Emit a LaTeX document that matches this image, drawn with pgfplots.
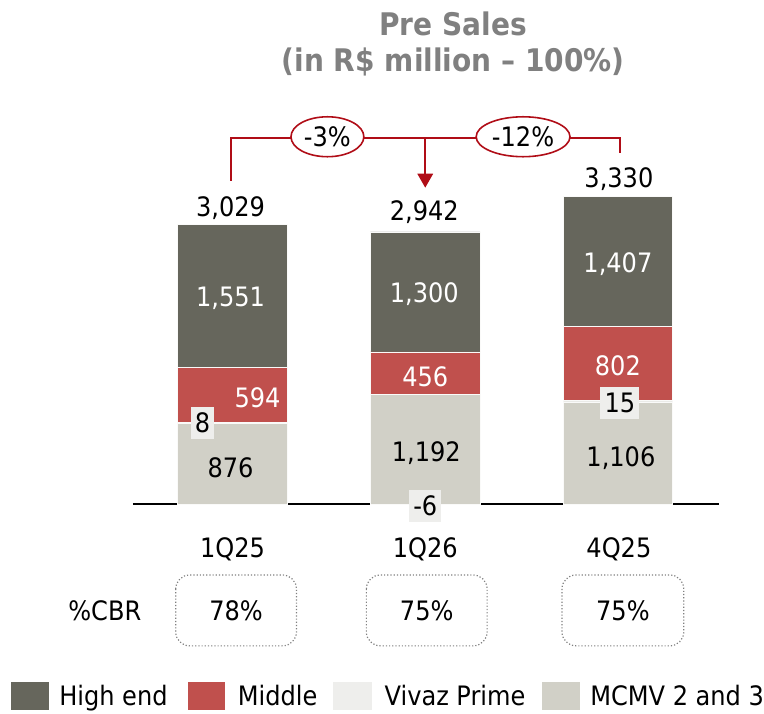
\documentclass[border=0pt]{standalone}
\usepackage{fontspec}
\setmainfont{DejaVu Sans Condensed}
\usepackage{pgfplots}
\pgfplotsset{compat=1.18}
\usetikzlibrary{shapes.geometric}

\definecolor{highend}{HTML}{66665C}
\definecolor{middle}{HTML}{C0504D}
\definecolor{vivaz}{HTML}{EEEEEC}
\definecolor{mcmv}{HTML}{D1D0C7}
\definecolor{titlegray}{HTML}{808080}
\definecolor{bred}{HTML}{B00D17}

\newcommand\lbl{\fontsize{13.4}{15}\selectfont}

\begin{document}
\begin{tikzpicture}
% 1 px of the reference = 0.5pt
\begin{axis}[
    at={(66.5pt,-252.5pt)}, anchor=south west,
    scale only axis, width=293.5pt, height=154pt,
    xmin=-0.518, xmax=2.523, ymin=0, ymax=3330,
    ybar stacked, bar width=55pt,
    axis x line*=bottom, axis y line=none,
    xtick=\empty, ytick=\empty,
    x axis line style={black, line width=0.8pt},
    clip=false,
  ]
  \addplot[fill=mcmv, draw=white!90!mcmv, line width=0.4pt] coordinates {(0,876) (1,1192) (2,1106)};
  \addplot[fill=vivaz, draw=white!90!mcmv, line width=0.4pt] coordinates {(0,8) (1,-6) (2,15)};
  \addplot[fill=middle, draw=white!90!mcmv, line width=0.4pt] coordinates {(0,594) (1,456) (2,802)};
  \addplot[fill=highend, draw=white!90!mcmv, line width=0.4pt] coordinates {(0,1551) (1,1300) (2,1407)};
\end{axis}

\begin{scope}[x=0.5pt, y=-0.5pt]
  \path (0,0) rectangle (764,715);
  % title
  \node[anchor=base, text=titlegray, font=\bfseries\fontsize{15.6}{18}\selectfont, inner sep=0] at (454,36) {Pre Sales};
  \node[anchor=base, text=titlegray, font=\bfseries\fontsize{15.6}{18}\selectfont, inner sep=0] at (454,72) {(in R\$ million – 100\%)};

  % bracket
  \draw[bred, line width=1pt] (231,181) -- (231,138) -- (621,138) -- (621,153);
  \draw[bred, line width=1pt] (426,138) -- (426,176);
  \fill[bred] (418,174) -- (434,174) -- (426,188) -- cycle;
  \node[draw=bred, fill=white, line width=0.8pt, ellipse, minimum width=36.5pt, minimum height=20pt, inner sep=0, font=\lbl] at (328,137) {-3\%};
  \node[draw=bred, fill=white, line width=0.8pt, ellipse, minimum width=47pt, minimum height=20pt, inner sep=0, font=\lbl] at (524,137) {-12\%};

  % totals
  \tikzset{lab/.style={anchor=base, inner sep=0, font=\lbl}}
  \node[lab] at (231,217) {3,029};
  \node[lab] at (425,221) {2,942};
  \node[lab] at (620,188) {3,330};
  % high end
  \node[lab, text=white] at (231,307) {1,551};
  \node[lab, text=white] at (425,303) {1,300};
  \node[lab, text=white] at (619,273) {1,407};
  % middle
  \node[lab, text=white] at (258,408) {594};
  \node[lab, text=white] at (426,387) {456};
  \node[lab, text=white] at (619,376) {802};
  % mcmv
  \node[lab] at (231,478) {876};
  \node[lab] at (427,462) {1,192};
  \node[lab] at (622,467) {1,106};
  % vivaz prime
  \tikzset{vb/.style={fill=vivaz, inner sep=0, minimum height=16pt, font=\lbl}}
  \node[vb, minimum width=11.5pt] at (203,424) {8};
  \node[vb, minimum width=16pt] at (426,507) {-6};
  \node[vb, minimum width=19.5pt] at (621,404) {15};

  % categories
  \node[lab] at (233,558) {1Q25};
  \node[lab] at (426,558) {1Q26};
  \node[lab] at (620,558) {4Q25};

  % %CBR
  \node[lab] at (105,622) {\%CBR};
  \foreach \a/\b/\t in {176/297/78\%, 367/488/75\%, 563/685/75\%}{
    \draw[gray, densely dotted, line width=0.6pt, rounded corners=7pt] (\a,576) rectangle (\b,647);
    \node[lab] at ({(\a+\b)/2},622) {\t};
  }

  % legend
  \fill[highend] (11,683) rectangle (49,711);
  \node[anchor=base west, inner sep=0, font=\lbl] at (59,707) {High end};
  \fill[middle] (188,683) rectangle (225,711);
  \node[anchor=base west, inner sep=0, font=\lbl] at (238,707) {Middle};
  \fill[vivaz] (334,683) rectangle (373,711);
  \node[anchor=base west, inner sep=0, font=\lbl] at (385,707) {Vivaz Prime};
  \fill[mcmv] (543,683) rectangle (581,711);
  \node[anchor=base west, inner sep=0, font=\lbl] at (591,707) {MCMV 2 and 3};
\end{scope}
\end{tikzpicture}
\end{document}
